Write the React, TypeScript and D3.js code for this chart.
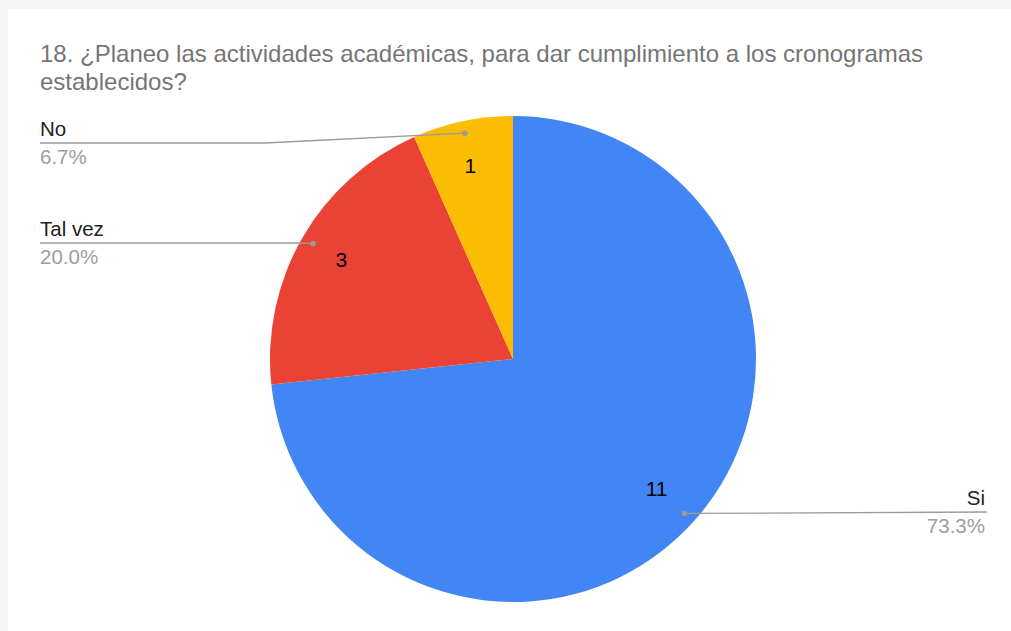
import React from "react";
import * as d3 from "d3";

const categories = ["Si", "Tal vez", "No"];
const counts = [11, 3, 1];
const percentLabels = ["73.3%", "20.0%", "6.7%"];
const colors = ["#4285F4", "#EA4335", "#FBBC04"];
const titleLines = [
  "18. ¿Planeo las actividades académicas, para dar cumplimiento a los cronogramas",
  "establecidos?",
];

const W = 1011;
const H = 631;
const cx = 513;
const cy = 359;
const R = 243;

export default function App() {
  const pie = d3.pie<number>().sort(null).value((d) => d);
  const arcs = pie(counts);
  const arcGen = d3.arc<d3.PieArcDatum<number>>().innerRadius(0).outerRadius(R);
  const dotArc = d3.arc<d3.PieArcDatum<number>>().innerRadius(R * 0.95).outerRadius(R * 0.95);
  const numArc = d3.arc<d3.PieArcDatum<number>>().innerRadius(196).outerRadius(196);

  const font = "Arial, 'Liberation Sans', sans-serif";

  const legend = [
    { side: "right", lineY: 512, x: 987 },
    { side: "left", lineY: 243, x: 40, bendX: 300 },
    { side: "left", lineY: 143, x: 40, bendX: 265 },
  ];

  return (
    <div style={{ position: "fixed", left: 0, top: 0 }}>
      <svg width={W} height={H} style={{ display: "block" }}>
        <rect x={0} y={0} width={W} height={H} fill="#f5f5f5" />
        <rect x={8} y={9} width={W - 8} height={H - 9} fill="#ffffff" />
        {titleLines.map((t, i) => (
          <text key={i} x={40} y={62 + i * 28} fontFamily={font} fontSize={24} fill="#757575">
            {t}
          </text>
        ))}
        <g transform={`translate(${cx},${cy})`}>
          {arcs.map((a, i) => (
            <path key={i} d={arcGen(a) || ""} fill={colors[i]} />
          ))}
          {arcs.map((a, i) => {
            const [nx, ny] = numArc.centroid(a);
            return (
              <text
                key={"n" + i}
                x={nx - 2}
                y={ny - 2}
                textAnchor="middle"
                dominantBaseline="central"
                fontFamily={font}
                fontSize={21}
                fill="#000"
              >
                {counts[i]}
              </text>
            );
          })}
        </g>
        {arcs.map((a, i) => {
          const [dx, dy] = dotArc.centroid(a);
          const px = cx + dx;
          const py = cy + dy;
          const L = legend[i];
          let pts: [number, number][];
          if (L.side === "right") {
            pts = [
              [px, py],
              [L.x, L.lineY],
            ];
          } else {
            pts = [
              [px, py],
              [L.bendX as number, L.lineY],
              [L.x, L.lineY],
            ];
          }
          const line = d3.line()(pts) || "";
          const anchor = L.side === "right" ? "end" : "start";
          const tx = L.side === "right" ? L.x - 2 : L.x;
          return (
            <g key={"l" + i}>
              <path d={line} stroke="#9a9a9a" strokeWidth={1.3} fill="none" />
              <circle cx={px} cy={py} r={2.8} fill="#9a9a9a" />
              <text x={tx} y={L.lineY - 7} textAnchor={anchor} fontFamily={font} fontSize={20.5} fill="#222">
                {categories[i]}
              </text>
              <text x={tx} y={L.lineY + 21} textAnchor={anchor} fontFamily={font} fontSize={20.5} fill="#9e9e9e">
                {percentLabels[i]}
              </text>
            </g>
          );
        })}
      </svg>
    </div>
  );
}
